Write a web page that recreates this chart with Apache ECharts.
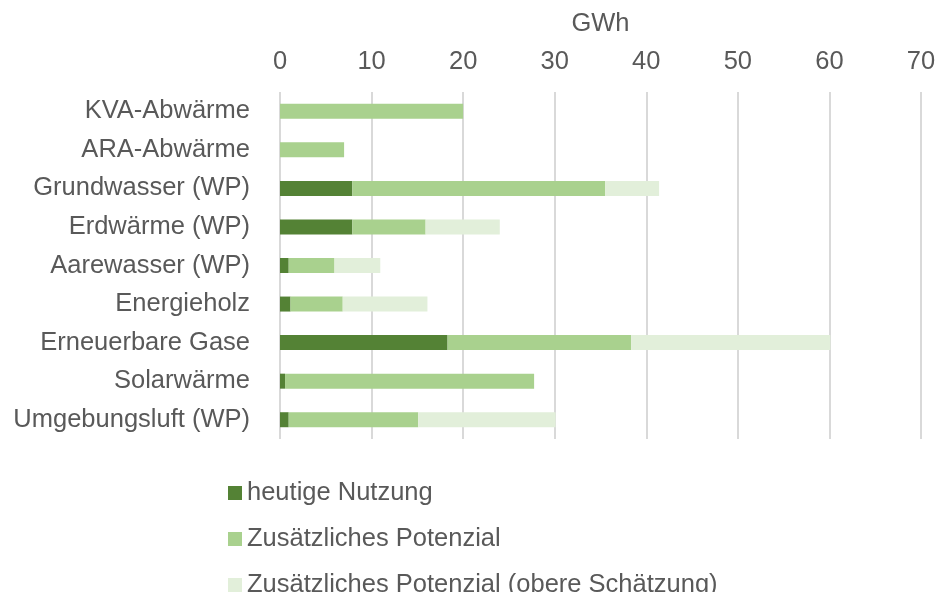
<!DOCTYPE html>
<html><head><meta charset="utf-8">
<script src="https://cdn.jsdelivr.net/npm/echarts@6/dist/echarts.min.js"></script>
<style>html,body{margin:0;padding:0;background:#fff}#c{width:937px;height:592px}</style>
</head><body><div id="c"></div>
<script>
const categories = ["KVA-Abwärme","ARA-Abwärme","Grundwasser (WP)","Erdwärme (WP)","Aarewasser (WP)","Energieholz","Erneuerbare Gase","Solarwärme","Umgebungsluft (WP)"];
const heutige = [0, 0, 7.9, 7.9, 0.95, 1.15, 18.3, 0.55, 0.95];
const zusaetzlich = [20, 7, 27.6, 8.0, 5.0, 5.7, 20.05, 27.2, 14.15];
const obere = [0, 0, 5.9, 8.1, 5.0, 9.25, 21.75, 0, 15.0];
const seriesNames = ["heutige Nutzung","Zusätzliches Potenzial","Zusätzliches Potenzial (obere Schätzung)"];
const colors = ["#548235","#A9D18E","#E2EFDA"];
const font = "Liberation Sans, Arial, sans-serif";
const fs = 25.5;
const chart = echarts.init(document.getElementById('c'));
chart.setOption({
  animation:false,
  textStyle:{fontFamily:font},
  grid:{left:280,right:16,top:92,bottom:153,containLabel:false,outerBoundsMode:'none'},
  legend:{orient:'vertical',left:228,top:480,height:200,padding:0,itemWidth:14,itemHeight:14,itemGap:20,itemTextGap:6,icon:'rect',
    textStyle:{fontSize:fs,lineHeight:24,color:'#595959',fontFamily:font},data:seriesNames},
  xAxis:{type:'value',position:'top',min:0,max:70,interval:10,name:'GWh',nameLocation:'middle',nameGap:55,
    nameTextStyle:{fontSize:fs,color:'#595959',fontFamily:font},
    axisLabel:{fontSize:fs,color:'#595959',margin:17,fontFamily:font},
    axisLine:{show:false},axisTick:{show:false},
    splitLine:{lineStyle:{color:'#d9d9d9',width:2}}},
  yAxis:{type:'category',inverse:true,data:categories,
    axisLabel:{fontSize:fs,color:'#595959',margin:30,fontFamily:font},
    axisLine:{show:false},axisTick:{show:false}},
  series:[heutige,zusaetzlich,obere].map((d,i)=>({
    name:seriesNames[i],type:'bar',stack:'s',data:d,barWidth:15,
    itemStyle:{color:colors[i]}
  }))
});
</script></body></html>
